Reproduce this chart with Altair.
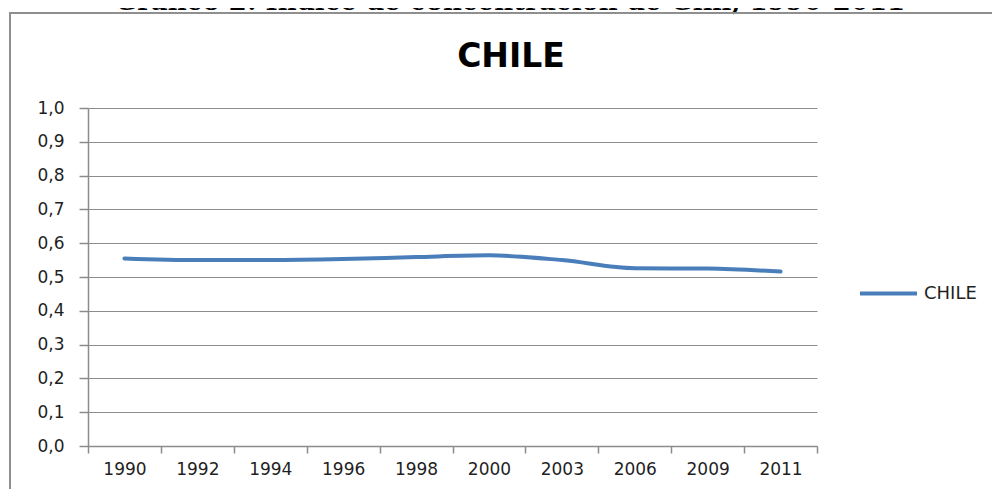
import altair as alt
import pandas as pd

years = ["1990", "1992", "1994", "1996", "1998", "2000", "2003", "2006", "2009", "2011"]
gini = [0.555, 0.550, 0.550, 0.553, 0.559, 0.564, 0.550, 0.526, 0.525, 0.516]
country = ["CHILE"] * len(years)
y_ticks = [0.0, 0.1, 0.2, 0.3, 0.4, 0.5, 0.6, 0.7, 0.8, 0.9, 1.0]

caption = "Gráfico 2: Índice de concentración de Gini, 1990-2011"
chart_title = "CHILE"

df = pd.DataFrame({"year": years, "gini": gini, "pais": country})

W, H = 729, 338
PL, PT = 80, 100
TOTAL_W, TOTAL_H = 984, 481
PR = TOTAL_W - PL - W
PB = TOTAL_H - PT - H

one = pd.DataFrame({"a": [0]})

frame = alt.Chart(one).mark_rect(
    fillOpacity=0, stroke="#8f8f8f", strokeWidth=2
).encode(
    x=alt.value(-78), x2=alt.value(1100), y=alt.value(-95), y2=alt.value(600)
)

cap = alt.Chart(one).mark_text(
    text=caption, font="DejaVu Serif", fontWeight="bold", fontSize=26,
    align="center", baseline="alphabetic", color="#000000"
).encode(x=alt.value(422), y=alt.value(-98.5))

ttl = alt.Chart(one).mark_text(
    text=chart_title, font="DejaVu Sans", fontWeight="bold", fontSize=33,
    align="center", baseline="alphabetic", color="#000000"
).encode(x=alt.value(423), y=alt.value(-41))

line = alt.Chart(df).mark_line(
    strokeWidth=4, strokeCap="round", strokeJoin="round", interpolate="monotone"
).encode(
    x=alt.X("year:O", sort=years,
            scale=alt.Scale(type="band", paddingInner=0, paddingOuter=0),
            axis=alt.Axis(title=None, labelAngle=0, tickBand="extent", grid=False,
                          tickSize=7, labelPadding=8)),
    y=alt.Y("gini:Q", scale=alt.Scale(domain=[0, 1], nice=False),
            axis=alt.Axis(title=None, values=y_ticks, grid=True, tickSize=9,
                          labelPadding=15,
                          labelExpr="replace(format(datum.value, '.1f'), '.', ',')")),
    color=alt.Color("pais:N", scale=alt.Scale(range=["#4A7EBB"]),
                    legend=alt.Legend(title=None, orient="none", legendX=770, legendY=155,
                                      symbolType="stroke", symbolSize=3249,
                                      symbolStrokeWidth=4, labelOffset=5, padding=0,
                                      labelFont="DejaVu Sans", labelFontSize=18,
                                      labelColor="#1f1f1f"))
)

chart = alt.layer(cap, frame, ttl, line).properties(
    width=W, height=H,
    autosize=alt.AutoSizeParams(type="none"),
    padding={"left": PL, "top": PT, "right": PR, "bottom": PB},
    background="#ffffff",
).configure_view(strokeWidth=0).configure_axis(
    labelFont="DejaVu Sans", labelFontSize=17, labelColor="#1f1f1f",
    tickColor="#8c8c8c", domainColor="#8c8c8c", gridColor="#8c8c8c",
    tickWidth=1.5, domainWidth=1.5, gridWidth=1.2
)

chart.save("out.html", embed_options={"renderer": "svg", "actions": False})
